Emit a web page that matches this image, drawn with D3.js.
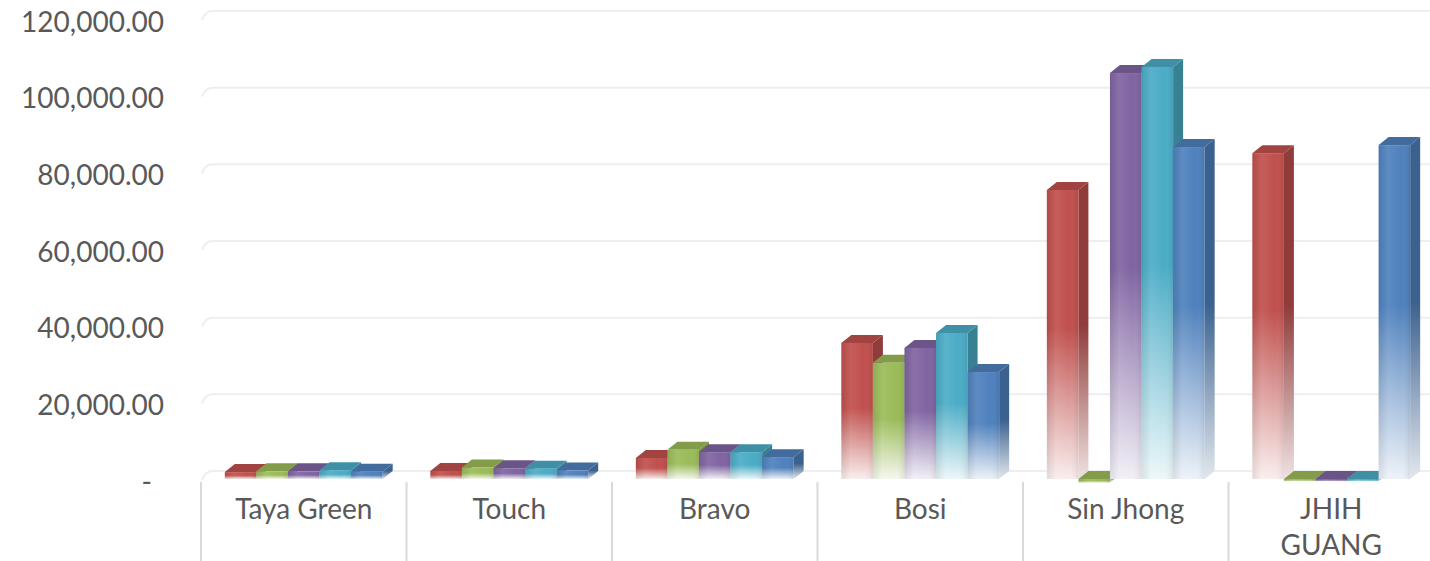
<!DOCTYPE html>
<html>
<head>
<meta charset="utf-8">
<script src="https://cdn.jsdelivr.net/npm/d3@7"></script>
<style>
  html, body { margin: 0; padding: 0; background: #ffffff; }
  svg { display: block; }
  text { font-family: Lato, "Open Sans", sans-serif; fill: #595959; }
</style>
</head>
<body>
<svg id="chart" width="1430" height="561"></svg>
<script>
// ---------- data ----------
const categories = ["Taya Green", "Touch", "Bravo", "Bosi", "Sin Jhong", "JHIH GUANG"];
const seriesRed    = [1800, 2100, 5500, 35500, 75400, 85000];
const seriesGreen  = [2000, 3000, 7600, 30300, -1000, -600];
const seriesPurple = [2000, 2800, 7000, 34200, 105900, -600];
const seriesCyan   = [2300, 2700, 7000, 38100, 107500, -600];
const seriesBlue   = [1900, 2200, 5700, 27900, 86600, 87100];
const tickValues = [0, 20000, 40000, 60000, 80000, 100000, 120000];
const tickLabels = ["-", "20,000.00", "40,000.00", "60,000.00", "80,000.00", "100,000.00", "120,000.00"];

const seriesList = [
  { key: "red",    values: seriesRed,    color: "#C0504D" },
  { key: "green",  values: seriesGreen,  color: "#9BBB59" },
  { key: "purple", values: seriesPurple, color: "#8064A2" },
  { key: "cyan",   values: seriesCyan,   color: "#4BACC6" },
  { key: "blue",   values: seriesBlue,   color: "#4F81BD" }
];

// ---------- layout ----------
const svg = d3.select("#chart");
const DX = 10, DY = -8;              // 3D depth offset
const y = d3.scaleLinear().domain([0, 120000]).range([479, 19]);
const x0 = d3.scaleBand().domain(categories).range([201, 1434]).paddingInner(0).paddingOuter(0);
const innerW = x0.bandwidth() * 0.768;
const x1 = d3.scaleBand().domain(seriesList.map(s => s.key)).range([0, innerW]).padding(0);

const defs = svg.append("defs");
seriesList.forEach(s => {
  const c = d3.color(s.color);
  const light = d3.interpolateRgb(s.color, "#ffffff")(0.9);
  const gf = defs.append("linearGradient").attr("id", "gf-" + s.key)
    .attr("x1", 0).attr("y1", 0).attr("x2", 0).attr("y2", 1);
  gf.append("stop").attr("offset", "0%").attr("stop-color", s.color);
  gf.append("stop").attr("offset", "48%").attr("stop-color", s.color);
  gf.append("stop").attr("offset", "100%").attr("stop-color", light);
  const dark = c.darker(0.8).formatHex();
  const lightDark = d3.interpolateRgb(dark, "#ffffff")(0.85);
  const gs = defs.append("linearGradient").attr("id", "gs-" + s.key)
    .attr("x1", 0).attr("y1", 0).attr("x2", 0).attr("y2", 1);
  gs.append("stop").attr("offset", "0%").attr("stop-color", dark);
  gs.append("stop").attr("offset", "48%").attr("stop-color", dark);
  gs.append("stop").attr("offset", "100%").attr("stop-color", lightDark);
});
// subtle horizontal shading for front faces
const gh = defs.append("linearGradient").attr("id", "ghl").attr("x1", 0).attr("y1", 0).attr("x2", 1).attr("y2", 0);
gh.append("stop").attr("offset", "0%").attr("stop-color", "#000").attr("stop-opacity", 0.08);
gh.append("stop").attr("offset", "30%").attr("stop-color", "#fff").attr("stop-opacity", 0.08);
gh.append("stop").attr("offset", "70%").attr("stop-color", "#fff").attr("stop-opacity", 0.0);
gh.append("stop").attr("offset", "100%").attr("stop-color", "#000").attr("stop-opacity", 0.08);

// ---------- back gridlines ----------
const [xL, xR] = x0.range();
const grid = svg.append("g").attr("class", "grid");
tickValues.forEach(v => {
  const yf = y(v), yb = y(v) + DY;
  grid.append("path")
    .attr("d", `M${xL + 1},${yf + 1} Q${xL + 4},${yb} ${xL + DX + 2},${yb} L${xR},${yb}`)
    .attr("fill", "none").attr("stroke", "#eeeeee").attr("stroke-width", 2);
});

// ---------- value axis labels ----------
const yAxis = svg.append("g").attr("class", "y-axis");
tickValues.forEach((v, i) => {
  const isZero = v === 0;
  yAxis.append("text")
    .attr("x", isZero ? 152 : 164)
    .attr("y", y(v) + 3)
    .attr("dy", "0.35em")
    .attr("text-anchor", "end")
    .attr("font-size", 28)
    .text(tickLabels[i]);
});

// ---------- category dividers ----------
const cat = svg.append("g").attr("class", "x-axis");
const dividers = categories.map(c => x0(c)).concat([xR]);
dividers.forEach(xd => {
  cat.append("line")
    .attr("x1", xd).attr("x2", xd)
    .attr("y1", y(0) + 3).attr("y2", 561)
    .attr("stroke", "#d9d9d9").attr("stroke-width", 2);
});

// ---------- bars ----------
const barsG = svg.append("g").attr("class", "bars");
categories.forEach((c, ci) => {
  const gx = x0(c) + (x0.bandwidth() - innerW) / 2;
  seriesList.forEach(s => {
    const v = s.values[ci];
    const bx = gx + x1(s.key);
    const w = x1.bandwidth();
    const yTop = Math.min(y(v), y(0));
    const yBot = Math.max(y(v), y(0));
    const h = Math.max(yBot - yTop, 0.5);
    const g = barsG.append("g");
    const dark = d3.color(s.color).darker(0.5).formatHex();
    // side face
    g.append("path")
      .attr("d", `M${bx + w},${yTop} L${bx + w + DX},${yTop + DY} L${bx + w + DX},${yBot + DY} L${bx + w},${yBot} Z`)
      .attr("fill", `url(#gs-${s.key})`);
    // top face
    g.append("path")
      .attr("d", `M${bx},${yTop} L${bx + DX},${yTop + DY} L${bx + w + DX},${yTop + DY} L${bx + w},${yTop} Z`)
      .attr("fill", dark);
    // front face
    g.append("rect")
      .attr("x", bx).attr("y", yTop).attr("width", w).attr("height", h)
      .attr("fill", `url(#gf-${s.key})`);
    g.append("rect")
      .attr("x", bx).attr("y", yTop).attr("width", w).attr("height", h)
      .attr("fill", "url(#ghl)");
  });
});

// ---------- category labels ----------
categories.forEach(c => {
  const t = cat.append("text")
    .attr("x", x0(c) + x0.bandwidth() / 2)
    .attr("y", 519)
    .attr("text-anchor", "middle")
    .attr("font-size", 28)
    .text(c);
  if (t.node().getComputedTextLength() > 150 && c.includes(" ")) {
    const words = c.split(" ");
    t.text(null);
    words.forEach((wd, i) => {
      t.append("tspan")
        .attr("x", x0(c) + x0.bandwidth() / 2)
        .attr("dy", i === 0 ? 0 : 36)
        .text(wd);
    });
  }
});
</script>
</body>
</html>
